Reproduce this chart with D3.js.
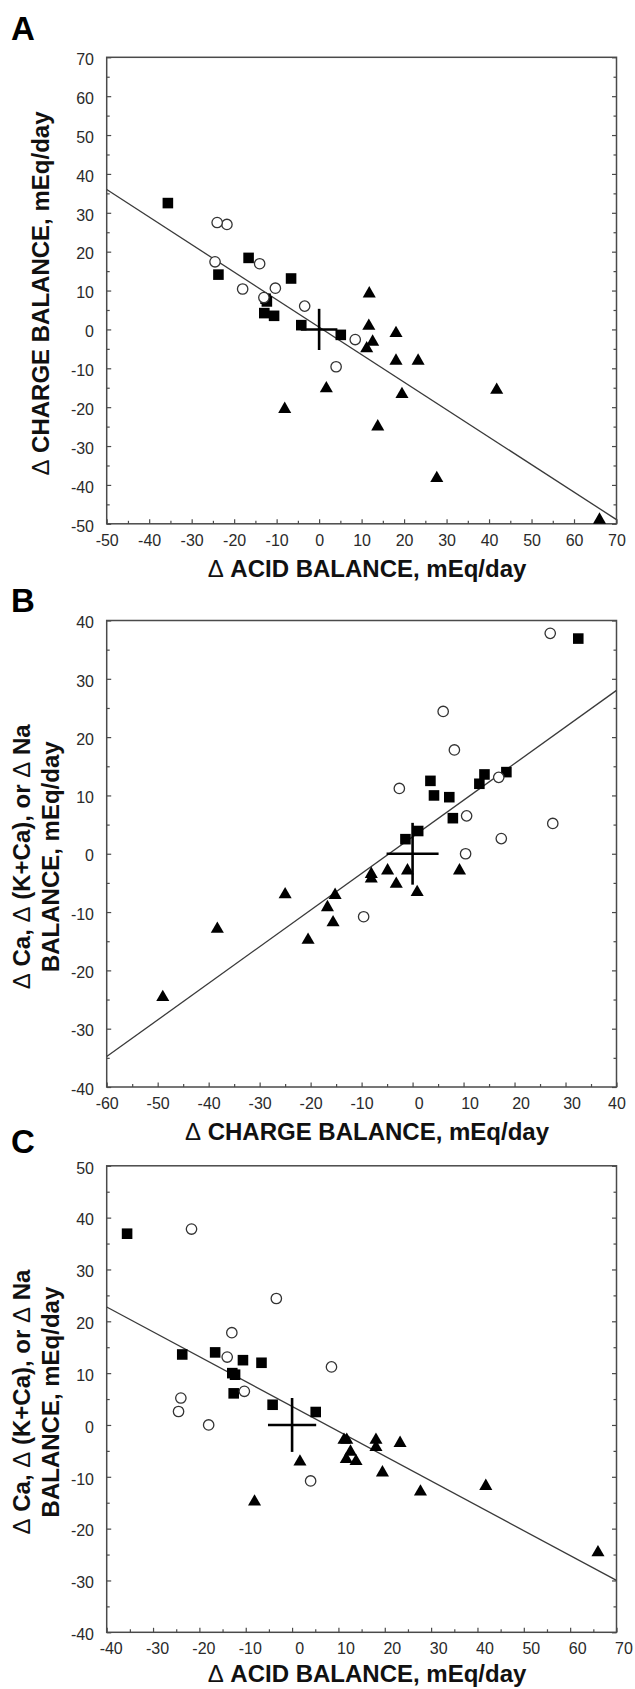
<!DOCTYPE html>
<html>
<head>
<meta charset="utf-8">
<script src="https://cdn.jsdelivr.net/npm/d3@7"></script>
<style>
  html, body { margin: 0; padding: 0; background: #fff; }
  svg { display: block; font-family: "Liberation Sans", Arial, Helvetica, sans-serif; }
</style>
</head>
<body>
<svg id="chart" width="635" height="1689"></svg>
<script>
// Per-subject changes in balance (mEq/day), one entry per subject.
// Filled squares
const squareAcid   = [-35.6, -23.7, -16.6, -6.6, -10.6, -12.9, -12.3, -12.6, -4.2, 5.1];
const squareCharge = [32.5, 14.1, 18.4, 13.1, 3.5, 4.2, 7.2, 7.9, 1.1, -1.4];
const squareCation = [36.9, 13.6, 14.0, 12.0, 12.5, 10.0, 9.7, 6.1, 3.9, 2.5];
// Open circles
const circleAcid   = [-21.7, -3.4, -13.0, 8.5, -14.0, -10.3, -24.0, -24.5, -18.0, 4.0];
const circleCharge = [27.0, 6.0, 8.2, -2.6, 16.9, 10.6, 27.5, 17.4, 10.4, -9.6];
const circleCation = [37.8, 24.4, 17.8, 11.2, 13.1, 6.5, 5.2, 2.6, 0.0, -10.8];
// Filled triangles
const triangleAcid   = [11.8, 11.7, 12.6, 11.2, 18.1, 18.1, 23.3, 19.5, 1.7, -8.1, 13.8, 41.8, 27.7, 66.0];
const triangleCharge = [9.2, 0.9, -3.2, -4.9, -1.0, -8.1, -8.1, -16.7, -15.2, -20.5, -25.0, -15.6, -38.3, -49.0];
const triangleCation = [-2.9, -6.6, -5.2, -2.9, -2.9, -4.3, -3.5, -9.2, -7.1, -14.8, -7.0, -11.8, -12.9, -24.6];

// Regression lines: [intercept, slope]
const fitA = [0.6, -0.7075];
const fitB = [2.9, 0.628];
const fitC = [3.57, -0.4795];

// Mean ± error cross at the origin: [horizontal half-width, vertical half-height]
const crossA = [4.3, 5.3];
const crossB = [5.1, 5.3];
const crossC = [5.2, 5.2];

// Axis tick labels
const ticksAcidA   = [-50, -40, -30, -20, -10, 0, 10, 20, 30, 40, 50, 60, 70];
const ticksChargeA = [-50, -40, -30, -20, -10, 0, 10, 20, 30, 40, 50, 60, 70];
const ticksChargeB = [-60, -50, -40, -30, -20, -10, 0, 10, 20, 30, 40];
const ticksCationB = [-40, -30, -20, -10, 0, 10, 20, 30, 40];
const ticksAcidC   = [-40, -30, -20, -10, 0, 10, 20, 30, 40, 50, 60, 70];
const ticksCationC = [-40, -30, -20, -10, 0, 10, 20, 30, 40, 50];

// Axis titles
const titleAcid   = "Δ ACID BALANCE, mEq/day";
const titleCharge = "Δ CHARGE BALANCE, mEq/day";
const titleCation = ["Δ Ca, Δ (K+Ca), or Δ Na", "BALANCE, mEq/day"];

const groups = [
  { shape: "square",   acid: squareAcid,   charge: squareCharge,   cation: squareCation },
  { shape: "triangle", acid: triangleAcid, charge: triangleCharge, cation: triangleCation },
  { shape: "circle",   acid: circleAcid,   charge: circleCharge,   cation: circleCation }
];

const panels = [
  { letter: "A", letterY: 39.5, top: 57.3, titleGap: 53, xKey: "acid", yKey: "charge",
    xTicks: ticksAcidA, yTicks: ticksChargeA, fit: fitA, cross: crossA,
    xTitle: titleAcid, yTitle: [titleCharge], labelShift: v => 0 },
  { letter: "B", letterY: 612, top: 620.5, titleGap: 53, xKey: "charge", yKey: "cation",
    xTicks: ticksChargeB, yTicks: ticksCationB, fit: fitB, cross: crossB,
    xTitle: titleCharge, yTitle: titleCation, labelShift: v => (v >= 0 && v < 40 ? 6 : 0) },
  { letter: "C", letterY: 1153, top: 1165.8, titleGap: 50, xKey: "acid", yKey: "cation",
    xTicks: ticksAcidC, yTicks: ticksCationC, fit: fitC, cross: crossC,
    xTitle: titleAcid, yTitle: titleCation, labelShift: v => (v < 0 ? 4 : 7) }
];

const LEFT = 106.7, RIGHT = 616.5, PH = 466.5;
const FRAME = "#4a4a4a";
const svg = d3.select("#chart");
// Tick numbers use a plain hyphen for negatives
const tickFmt = v => String(v);

// Writes a title, drawing every Δ in regular weight and the rest in bold
function titleText(sel, str) {
  const parts = str.split("Δ");
  parts.forEach((part, i) => {
    if (i > 0) sel.append("tspan").attr("font-weight", 400).text("Δ");
    if (part.length) sel.append("tspan").attr("font-weight", 700).text(part);
  });
}

panels.forEach(p => {
  const xDom = d3.extent(p.xTicks), yDom = d3.extent(p.yTicks);
  const x = d3.scaleLinear().domain(xDom).range([LEFT, RIGHT]);
  const y = d3.scaleLinear().domain(yDom).range([p.top + PH, p.top]);
  const g = svg.append("g");

  const minorX = d3.range(xDom[0], xDom[1] + 0.01, 5).filter(v => !p.xTicks.includes(v));
  const minorY = d3.range(yDom[0], yDom[1] + 0.01, 5).filter(v => !p.yTicks.includes(v));

  // Bottom axis: inward ticks with labels below
  const bottom = g.append("g").attr("transform", `translate(0,${p.top + PH})`)
    .call(d3.axisBottom(x).tickValues(p.xTicks).tickSize(-4.5).tickPadding(10.6).tickFormat(tickFmt));
  bottom.append("g").call(d3.axisBottom(x).tickValues(minorX).tickSize(-3).tickFormat(""));
  bottom.selectAll("text").attr("dx", d => p.labelShift(d));

  // Left axis
  const left = g.append("g").attr("transform", `translate(${LEFT},0)`)
    .call(d3.axisLeft(y).tickValues(p.yTicks).tickSize(-4.5).tickPadding(12.7).tickFormat(tickFmt));
  left.append("g").call(d3.axisLeft(y).tickValues(minorY).tickSize(-3).tickFormat(""));
  left.selectAll("text").attr("dy", "0.45em");

  // Right axis: inward ticks only
  const right = g.append("g").attr("transform", `translate(${RIGHT},0)`)
    .call(d3.axisRight(y).tickValues(p.yTicks).tickSize(-4.5).tickFormat(""));
  right.append("g").call(d3.axisRight(y).tickValues(minorY).tickSize(-3).tickFormat(""));

  g.selectAll(".domain").remove();
  g.selectAll(".tick line").attr("stroke", FRAME).attr("stroke-width", 1.2);
  g.selectAll(".tick text").attr("font-size", 16).attr("fill", "#2a2a2a")
    .attr("font-family", "'Liberation Sans', Arial, Helvetica, sans-serif");

  // Frame
  g.append("rect").attr("x", LEFT).attr("y", p.top).attr("width", RIGHT - LEFT).attr("height", PH)
    .attr("fill", "none").attr("stroke", FRAME).attr("stroke-width", 1.5);

  // Regression line
  const clipId = "clip" + p.letter;
  g.append("clipPath").attr("id", clipId).append("rect")
    .attr("x", LEFT).attr("y", p.top).attr("width", RIGHT - LEFT).attr("height", PH);
  g.append("path")
    .datum(xDom)
    .attr("clip-path", `url(#${clipId})`)
    .attr("d", d3.line().x(v => x(v)).y(v => y(p.fit[0] + p.fit[1] * v)))
    .attr("fill", "none").attr("stroke", "#3a3a3a").attr("stroke-width", 1.3);

  // Subject markers
  groups.forEach(grp => {
    const pts = grp[p.xKey].map((v, i) => ({ x: v, y: grp[p.yKey][i] }));
    if (grp.shape === "circle") {
      g.append("g").selectAll("circle").data(pts).join("circle")
        .attr("cx", d => x(d.x)).attr("cy", d => y(d.y)).attr("r", 5.2)
        .attr("fill", "#fff").attr("stroke", "#333").attr("stroke-width", 1.3);
    } else {
      const sym = grp.shape === "square" ? d3.symbol(d3.symbolSquare, 112) : d3.symbol(d3.symbolTriangle, 74);
      g.append("g").selectAll("path").data(pts).join("path")
        .attr("transform", d => `translate(${x(d.x)},${y(d.y)})`)
        .attr("d", sym).attr("fill", "#000");
    }
  });

  // Mean ± error cross
  const cx = g.append("g").attr("stroke", "#000").attr("stroke-width", 2.6);
  cx.append("line").attr("x1", x(-p.cross[0])).attr("x2", x(p.cross[0])).attr("y1", y(0)).attr("y2", y(0));
  cx.append("line").attr("x1", x(0)).attr("x2", x(0)).attr("y1", y(-p.cross[1])).attr("y2", y(p.cross[1]));

  // Panel letter
  svg.append("text").attr("x", 11).attr("y", p.letterY)
    .attr("font-size", 33).attr("font-weight", 700).attr("fill", "#000").text(p.letter);

  // X title
  const xt = svg.append("text").attr("x", 367).attr("y", p.top + PH + p.titleGap)
    .attr("text-anchor", "middle").attr("font-size", 24).attr("fill", "#111");
  titleText(xt, p.xTitle);

  // Y title (one or two lines)
  const cy = p.top + PH / 2 + 3;
  const lineX = p.yTitle.length === 1 ? [49] : [29.5, 58.5];
  p.yTitle.forEach((line, i) => {
    const t = svg.append("text")
      .attr("transform", `translate(${lineX[i]},${cy}) rotate(-90)`)
      .attr("text-anchor", "middle").attr("font-size", 24).attr("fill", "#111");
    titleText(t, line);
  });
});
</script>
</body>
</html>
